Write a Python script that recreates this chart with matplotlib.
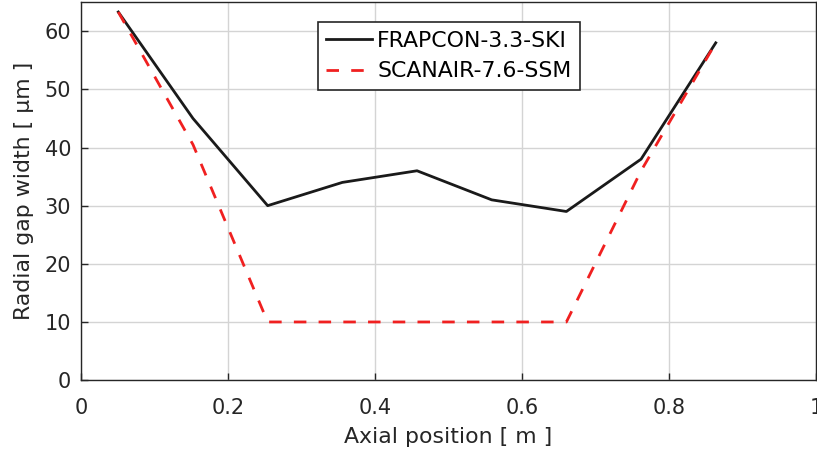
import matplotlib
matplotlib.use("Agg")
import matplotlib.pyplot as plt

plt.rcParams['font.family'] = ['DejaVu Sans']

# axial node positions [m]
x = [0.0508, 0.1524, 0.254, 0.3556, 0.4572, 0.5588, 0.6604, 0.762, 0.8636]
frapcon = [63.3, 45, 30, 34, 36, 31, 29, 38, 58]
scanair = [63.3, 40.5, 10, 10, 10, 10, 10, 36, 58]

xticks = [0, 0.2, 0.4, 0.6, 0.8, 1]
yticks = [0, 10, 20, 30, 40, 50, 60]

fig = plt.figure(figsize=(8.17, 4.63), dpi=100)
ax = fig.add_axes([0.0991, 0.179, 0.8997, 0.8164])

ax.plot(x, frapcon, color='#1a1a1a', lw=2, label='FRAPCON-3.3-SKI', zorder=3)
ax.plot(x, scanair, color='#f02020', lw=2, ls=(0, (4.5, 4.4)), label='SCANAIR-7.6-SSM', zorder=3)

ax.set_xlim(0, 1)
ax.set_ylim(0, 65)
ax.set_xticks(xticks)
ax.set_xticklabels(['0', '0.2', '0.4', '0.6', '0.8', '1'])
ax.set_yticks(yticks)
ax.grid(True, color='#d4d4d4', lw=1)
ax.set_axisbelow(True)
ax.tick_params(direction='in', length=5, width=1, colors='#262626', labelsize=15)
ax.tick_params(axis='x', pad=13)
ax.tick_params(axis='y', pad=7)
for s in ax.spines.values():
    s.set_color('#262626')
    s.set_linewidth(1)

ax.set_xlabel('Axial position [ m ]', fontsize=15.8, color='#262626', labelpad=6)
ax.set_ylabel('Radial gap width [ μm ]', fontsize=15.8, color='#262626', labelpad=8)

leg = ax.legend(loc='upper left', bbox_to_anchor=(0.3224, 0.947), borderaxespad=0,
                fontsize=15.8, frameon=True, fancybox=False, edgecolor='#262626',
                framealpha=1, handlelength=2.1, borderpad=0.38, labelspacing=0.5,
                handletextpad=0.22)
leg.get_frame().set_linewidth(1.2)

fig.savefig('out.png', dpi=100)
